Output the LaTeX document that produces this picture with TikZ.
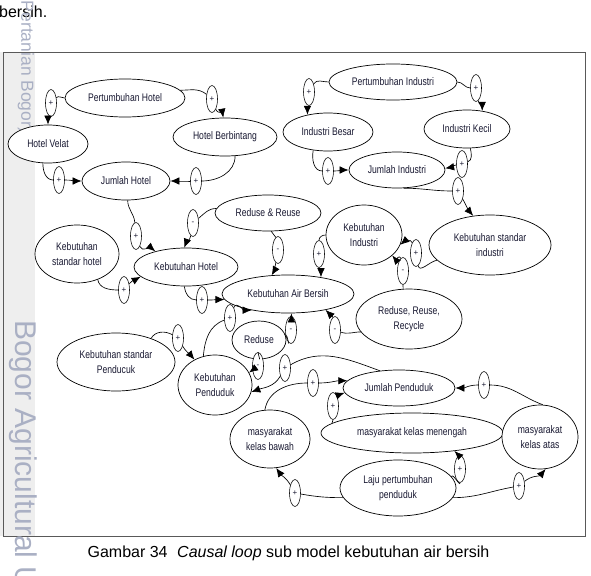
\documentclass[tikz,border=0pt]{standalone}
\usepackage{fontspec}
\setmainfont{Liberation Sans}
\newfontfamily\nfont[FakeStretch=0.78]{Liberation Sans}
\usetikzlibrary{arrows.meta,shapes.geometric}
\definecolor{txt}{RGB}{25,25,50}
\definecolor{wm}{RGB}{170,176,196}
\definecolor{band}{RGB}{238,238,238}
\begin{document}
\begin{tikzpicture}[x=1pt,y=-1pt,
  box/.style={draw=black, line width=0.7pt, ellipse, inner sep=0pt, fill=white, text=txt,
    font=\nfont\fontsize{11}{15}\selectfont, align=center},
  sg/.style={draw=black, line width=0.55pt, ellipse, inner sep=0pt, minimum width=11pt,
    minimum height=27pt, font=\fontsize{8}{8}\selectfont, fill=white, text=txt},
  lk/.style={line width=0.65pt, draw=black},
  ar/.style={lk, -{Latex[length=9pt,width=7.5pt]}},
]
\useasboundingbox (0,0) rectangle (591,575);
\fill[band] (0,52) rectangle (35,536);
\draw[gray!70!black, line width=0.8pt] (3,52) rectangle (585,536);
% page text
\node[anchor=base west, inner sep=0pt, font=\fontsize{16}{19}\selectfont] (toptxt) at (-1,18) {bersih.};
\node[font=\fontsize{16}{19}\selectfont] (cap) at (288.5,553) {Gambar 34\hspace{0.6em}\textit{Causal loop} sub model kebutuhan air bersih};
\node[rotate=-90, text=wm, font=\fontsize{17.5}{17.5}\selectfont, inner sep=0pt] (wm1) at (26,67) {Pertanian Bogor)};
\node[rotate=-90, text=wm, font=\fontsize{30}{30}\selectfont, inner sep=0pt, anchor=west] (wm2) at (23,320) {Bogor Agricultural U};
% main nodes
\node[box, minimum width=120pt, minimum height=38pt] (ph) at (125,98) {Pertumbuhan Hotel};
\node[box, minimum width=80pt, minimum height=38pt] (hv) at (48,144) {Hotel Velat};
\node[box, minimum width=104pt, minimum height=38pt] (hb) at (225,137) {Hotel Berbintang};
\node[box, minimum width=88pt, minimum height=38pt] (jh) at (126,181) {Jumlah Hotel};
\node[box, minimum width=128pt, minimum height=36pt] (pi) at (393,82) {Pertumbuhan Industri};
\node[box, minimum width=90pt, minimum height=38pt] (ib) at (328,132) {Industri Besar};
\node[box, minimum width=86pt, minimum height=38pt] (ik) at (467,129) {Industri Kecil};
\node[box, minimum width=96pt, minimum height=36pt] (ji) at (397,170) {Jumlah Industri};
\node[box, minimum width=122pt, minimum height=60pt] (ksi) at (490,245) {Kebutuhan standar\\industri};
\node[box, minimum width=76pt, minimum height=60pt] (ki) at (364,235) {Kebutuhan\\Industri};
\node[box, minimum width=106pt, minimum height=60pt] (rrr) at (409,319) {Reduse, Reuse,\\Recycle};
\node[box, minimum width=106pt, minimum height=36pt] (rr) at (268,213) {Reduse \& Reuse};
\node[box, minimum width=104pt, minimum height=38pt] (kh) at (186,267) {Kebutuhan Hotel};
\node[box, minimum width=84pt, minimum height=58pt] (ksh) at (77,254) {Kebutuhan\\standar hotel};
\node[box, minimum width=132pt, minimum height=38pt] (kab) at (288,294) {Kebutuhan Air Bersih};
\node[box, minimum width=54pt, minimum height=38pt] (red) at (259,340) {Reduse};
\node[box, minimum width=118pt, minimum height=58pt] (ksp) at (116,362) {Kebutuhan standar\\Penducuk};
\node[box, minimum width=74pt, minimum height=60pt] (kp) at (215,385) {Kebutuhan\\Penduduk};
\node[box, minimum width=80pt, minimum height=58pt] (mkb) at (270,439) {masyarakat\\kelas bawah};
\node[box, minimum width=112pt, minimum height=36pt] (jp) at (399,388) {Jumlah Penduduk};
\node[box, minimum width=182pt, minimum height=40pt] (mkm) at (412,433) {masyarakat kelas menengah};
\node[box, minimum width=76pt, minimum height=64pt] (mka) at (540,437) {masyarakat\\kelas atas};
\node[box, minimum width=116pt, minimum height=56pt] (lpp) at (398,488) {Laju pertumbuhan\\penduduk};
% signs
\node[sg] (s1) at (51,103) {+};
\node[sg] (s2) at (212,99) {+};
\node[sg] (s3) at (59,180) {+};
\node[sg] (s4) at (196,181) {+};
\node[sg] (s5) at (309,92) {+};
\node[sg] (s6) at (476,88) {+};
\node[sg] (s7) at (328,171) {+};
\node[sg] (s8) at (462,164) {+};
\node[sg] (s9) at (458,191) {+};
\node[sg] (s10) at (416,253) {+};
\node[sg] (s11) at (403,271) {-};
\node[sg] (s12) at (319,254) {+};
\node[sg] (s13) at (136,236) {+};
\node[sg] (s14) at (193,223) {-};
\node[sg] (s15) at (278,250) {-};
\node[sg] (s16) at (124,290) {+};
\node[sg] (s17) at (202,300) {+};
\node[sg] (s18) at (178,338) {+};
\node[sg] (s19) at (230,318) {+};
\node[sg] (s20) at (291,330) {-};
\node[sg] (s21) at (335,330) {-};
\node[sg] (s22) at (258,366) {-};
\node[sg] (s23) at (285,368) {+};
\node[sg] (s24) at (313,383) {+};
\node[sg] (s25) at (333,406) {+};
\node[sg] (s26) at (484,385) {+};
\node[sg] (s27) at (460,469) {+};
\node[sg] (s28) at (519,486) {+};
\node[sg] (s29) at (295,493) {+};
% links
\draw[lk] (ph.180) to[out=180,in=45] (s1);
\draw[ar] (s1) to[out=-95,in=90] (hv.north);
\draw[lk] (ph.8) to[out=0,in=140] (s2);
\draw[ar] (s2) to[out=-70,in=100] (hb.95);
\draw[lk] (hv.255) to[out=-90,in=180] (s3);
\draw[ar] (s3) to[out=0,in=180] (jh.west);
\draw[lk] (hb.-62) to[out=-90,in=0] (s4);
\draw[ar] (s4) to[out=180,in=0] (jh.east);
\draw[lk] (pi.180) to[out=180,in=60] (s5);
\draw[ar] (s5) to[out=-90,in=90] (ib.140);
\draw[lk] (pi.0) to[out=0,in=180] (s6);
\draw[ar] (s6) to[out=-80,in=90] (ik.50);
\draw[lk] (ib.231) to[out=-100,in=180] (s7);
\draw[ar] (s7) to[out=0,in=180] (ji.west);
\draw[lk] (ik.-80) to[out=-80,in=20] (s8);
\draw[ar] (s8) to[out=190,in=10] (ji.2);
\draw[lk] (ji.-70) to[out=0,in=180] (s9);
\draw[ar] (s9) to[out=-60,in=130] (ksi.120);
\draw[lk] (ksi.196) to[out=190,in=-80] (s10);
\draw[ar] (s10) to[out=110,in=40] (ki.-15);
\draw[lk] (rrr.101) to[out=95,in=-90] (s11);
\draw[ar] (s11) to[out=100,in=-50] (ki.-36);
\draw[lk] (ki.180) to[out=180,in=90] (s12);
\draw[ar] (s12) to[out=-90,in=90] (kab.27);
\draw[lk] (jh.-85) to[out=-90,in=95] (s13);
\draw[ar] (s13) to[out=-70,in=140] (kh.153);
\draw[lk] (rr.175) to[out=180,in=40] (s14);
\draw[ar] (s14) to[out=-100,in=70] (kh.95);
\draw[lk] (rr.-80) to[out=-80,in=100] (s15);
\draw[ar] (s15) to[out=-100,in=60] (kab.131);
\draw[lk] (ksh.-51) to[out=-80,in=180] (s16);
\draw[ar] (s16) to[out=50,in=210] (kh.192);
\draw[lk] (kh.-95) to[out=-85,in=180] (s17);
\draw[ar] (s17) to[out=0,in=180] (kab.185);
\draw[lk] (ksp.34) to[out=60,in=150] (s18);
\draw[ar] (s18) to[out=-60,in=130] (kp.129);
\draw[lk] (kp.112) to[out=85,in=200] (s19);
\draw[ar] (s19) to[out=70,in=180] (kab.204);
\draw[lk] (red.12) to[out=-20,in=-100] (s20);
\draw[ar] (s20) to[out=90,in=-90] (kab.-80);
\draw[lk] (rrr.195) to[out=180,in=-20] (s21);
\draw[ar] (s21) to[out=100,in=-45] (kab.-23);
\draw[lk] (red.-88) -- (s22.north);
\draw[ar] (s22) -- (kp.20);
\draw[lk] (jp.138) to[out=160,in=30] (s23);
\draw[ar] (s23) to[out=-120,in=20] (kp.-11);
\draw[lk] (mkb.100) to[out=80,in=180] (s24);
\draw[ar] (s24) to[out=0,in=180] (jp.172);
\draw[lk] (mkm.173) to[out=95,in=-90] (s25);
\draw[ar] (s25) to[out=70,in=200] (jp.185);
\draw[lk] (mka.85) to[out=160,in=0] (s26);
\draw[ar] (s26) to[out=180,in=0] (jp.east);
\draw[lk] (lpp.12) to[out=70,in=-90] (s27);
\draw[ar] (s27) to[out=100,in=-45] (mkm.-23);
\draw[lk] (lpp.-10) to[out=0,in=190] (s28);
\draw[ar] (s28) to[out=40,in=-130] (mka.-80);
\draw[lk] (lpp.190) to[out=180,in=-10] (s29);
\draw[ar] (s29) to[out=120,in=-55] (mkb.-78);
\end{tikzpicture}
\end{document}
